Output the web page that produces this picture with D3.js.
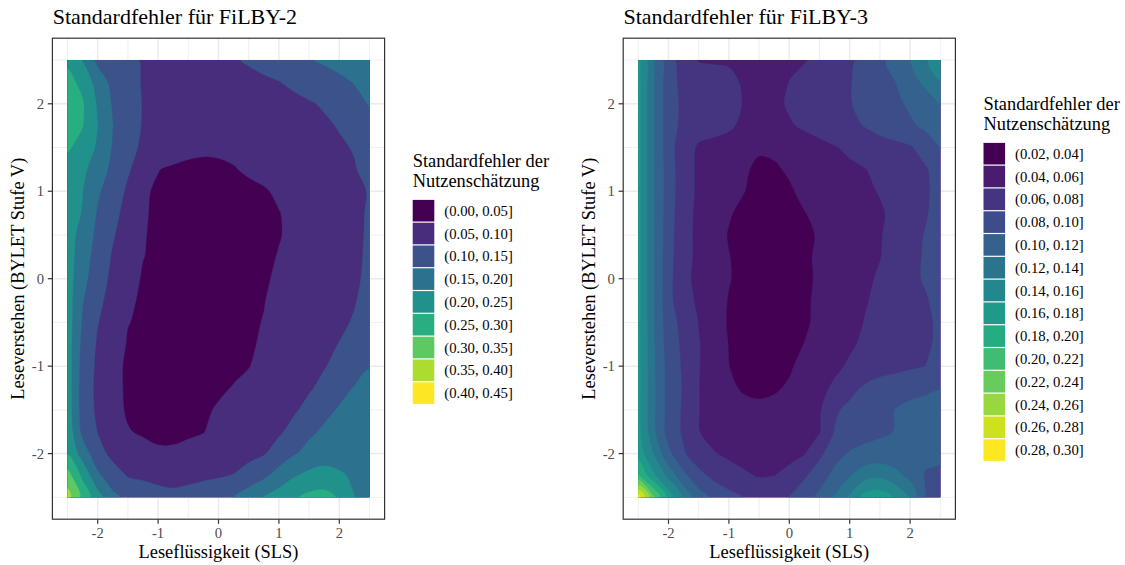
<!DOCTYPE html>
<html>
<head>
<meta charset="utf-8">
<script src="https://cdn.jsdelivr.net/npm/d3@7"></script>
<style>
  body { margin: 0; background: #ffffff; }
  svg { display: block; }
  text { font-family: "Liberation Serif", "Times New Roman", serif; }
</style>
</head>
<body>
<svg id="chart" width="1125" height="565"></svg>
<script>
// Evaluation grid (SLS on x, BYLET on y); rows of the value grids run from y = 2.5 down to y = -2.5
const gridX = [-2.5, -2.25, -2.0, -1.75, -1.5, -1.25, -1.0, -0.75, -0.5, -0.25, 0, 0.25, 0.5, 0.75, 1.0, 1.25, 1.5, 1.75, 2.0, 2.25, 2.5];
const gridY = [2.5, 2.25, 2.0, 1.75, 1.5, 1.25, 1.0, 0.75, 0.5, 0.25, 0, -0.25, -0.5, -0.75, -1.0, -1.25, -1.5, -1.75, -2.0, -2.25, -2.5];

const majorBreaks = [-2, -1, 0, 1, 2];
const majorLabels = ["-2", "-1", "0", "1", "2"];
const minorBreaks = [-2.5, -1.5, -0.5, 0.5, 1.5, 2.5];

const breaksFilby2 = [0.00, 0.05, 0.10, 0.15, 0.20, 0.25, 0.30, 0.35, 0.40, 0.45];
const labelsFilby2 = ["(0.00, 0.05]", "(0.05, 0.10]", "(0.10, 0.15]", "(0.15, 0.20]", "(0.20, 0.25]",
                      "(0.25, 0.30]", "(0.30, 0.35]", "(0.35, 0.40]", "(0.40, 0.45]"];

const breaksFilby3 = [0.02, 0.04, 0.06, 0.08, 0.10, 0.12, 0.14, 0.16, 0.18, 0.20, 0.22, 0.24, 0.26, 0.28, 0.30];
const labelsFilby3 = ["(0.02, 0.04]", "(0.04, 0.06]", "(0.06, 0.08]", "(0.08, 0.10]", "(0.10, 0.12]",
                      "(0.12, 0.14]", "(0.14, 0.16]", "(0.16, 0.18]", "(0.18, 0.20]", "(0.20, 0.22]",
                      "(0.22, 0.24]", "(0.24, 0.26]", "(0.26, 0.28]", "(0.28, 0.30]"];

// Standard error of the utility estimate, FiLBY-2
const seFilby2 = [
  [0.240, 0.198, 0.137, 0.126, 0.109, 0.097, 0.090, 0.086, 0.084, 0.085, 0.088, 0.095, 0.106, 0.116, 0.126, 0.137, 0.147, 0.156, 0.164, 0.172, 0.180],
  [0.265, 0.2375, 0.178, 0.136, 0.115, 0.097, 0.088, 0.082, 0.079, 0.077, 0.078, 0.080, 0.085, 0.092, 0.099, 0.109, 0.120, 0.131, 0.1415, 0.152, 0.165],
  [0.275, 0.255, 0.194, 0.145, 0.121, 0.098, 0.087, 0.080, 0.075, 0.072, 0.071, 0.071, 0.073, 0.077, 0.083, 0.089, 0.096, 0.105, 0.121, 0.138, 0.152],
  [0.270, 0.252, 0.201, 0.151, 0.121, 0.097, 0.085, 0.077, 0.071, 0.067, 0.065, 0.065, 0.066, 0.069, 0.073, 0.078, 0.085, 0.093, 0.103, 0.118, 0.140],
  [0.256, 0.234, 0.192, 0.146, 0.115, 0.092, 0.079, 0.068, 0.060, 0.056, 0.056, 0.058, 0.060, 0.063, 0.067, 0.072, 0.078, 0.085, 0.094, 0.103, 0.130],
  [0.230, 0.210, 0.177, 0.137, 0.105, 0.079, 0.051, 0.045, 0.042, 0.042, 0.044, 0.048, 0.055, 0.060, 0.065, 0.071, 0.077, 0.083, 0.090, 0.097, 0.115],
  [0.225, 0.201, 0.157, 0.124, 0.093, 0.054, 0.046, 0.040, 0.037, 0.036, 0.037, 0.039, 0.042, 0.047, 0.055, 0.062, 0.070, 0.077, 0.085, 0.093, 0.102],
  [0.225, 0.197, 0.145, 0.113, 0.085, 0.053, 0.045, 0.039, 0.036, 0.034, 0.034, 0.035, 0.038, 0.042, 0.049, 0.058, 0.066, 0.074, 0.083, 0.092, 0.104],
  [0.222, 0.182, 0.138, 0.104, 0.079, 0.052, 0.044, 0.038, 0.035, 0.033, 0.032, 0.033, 0.035, 0.040, 0.048, 0.058, 0.066, 0.074, 0.083, 0.092, 0.105],
  [0.222, 0.174, 0.129, 0.0955, 0.073, 0.051, 0.042, 0.037, 0.034, 0.032, 0.032, 0.033, 0.036, 0.042, 0.052, 0.060, 0.068, 0.076, 0.084, 0.093, 0.106],
  [0.223, 0.165, 0.121, 0.0898, 0.067, 0.046, 0.041, 0.036, 0.034, 0.033, 0.034, 0.036, 0.040, 0.046, 0.055, 0.063, 0.070, 0.078, 0.086, 0.095, 0.107],
  [0.224, 0.1525, 0.111, 0.0833, 0.057, 0.044, 0.040, 0.036, 0.034, 0.034, 0.036, 0.039, 0.043, 0.049, 0.058, 0.066, 0.074, 0.082, 0.090, 0.098, 0.112],
  [0.225, 0.1448, 0.102, 0.0765, 0.051, 0.045, 0.040, 0.037, 0.036, 0.037, 0.039, 0.042, 0.046, 0.051, 0.061, 0.070, 0.078, 0.086, 0.094, 0.103, 0.125],
  [0.226, 0.136, 0.0949, 0.070, 0.047, 0.044, 0.041, 0.039, 0.039, 0.040, 0.042, 0.045, 0.048, 0.052, 0.066, 0.076, 0.085, 0.093, 0.101, 0.113, 0.130],
  [0.226, 0.1315, 0.0913, 0.060, 0.045, 0.043, 0.041, 0.040, 0.040, 0.041, 0.043, 0.046, 0.049, 0.059, 0.068, 0.078, 0.088, 0.098, 0.111, 0.128, 0.148],
  [0.226, 0.127, 0.0894, 0.060, 0.045, 0.043, 0.041, 0.041, 0.042, 0.044, 0.047, 0.051, 0.058, 0.068, 0.078, 0.087, 0.096, 0.110, 0.133, 0.153, 0.165],
  [0.228, 0.128, 0.0915, 0.062, 0.046, 0.043, 0.042, 0.042, 0.044, 0.047, 0.052, 0.062, 0.071, 0.079, 0.087, 0.095, 0.112, 0.137, 0.155, 0.163, 0.170],
  [0.235, 0.136, 0.099, 0.075, 0.052, 0.046, 0.044, 0.044, 0.046, 0.049, 0.060, 0.069, 0.077, 0.085, 0.094, 0.1146, 0.141, 0.158, 0.166, 0.171, 0.175],
  [0.248, 0.178, 0.117, 0.088, 0.070, 0.062, 0.054, 0.054, 0.058, 0.063, 0.070, 0.078, 0.087, 0.097, 0.120, 0.146, 0.165, 0.175, 0.178, 0.179, 0.180],
  [0.320, 0.239, 0.160, 0.121, 0.097, 0.094, 0.092, 0.092, 0.094, 0.095, 0.096, 0.102, 0.119, 0.140, 0.170, 0.196, 0.212, 0.220, 0.207, 0.192, 0.185],
  [0.370, 0.287, 0.220, 0.163, 0.135, 0.120, 0.110, 0.106, 0.108, 0.115, 0.130, 0.149, 0.177, 0.203, 0.222, 0.243, 0.262, 0.266, 0.245, 0.201, 0.180]
];

// Standard error of the utility estimate, FiLBY-3
const seFilby3 = [
  [0.166, 0.122, 0.088, 0.070, 0.059, 0.058, 0.058, 0.057, 0.056, 0.056, 0.057, 0.059, 0.0635, 0.070, 0.077, 0.0857, 0.096, 0.1075, 0.119, 0.137, 0.155],
  [0.166, 0.122, 0.088, 0.074, 0.070, 0.068, 0.064, 0.058, 0.052, 0.054, 0.0603, 0.065, 0.070, 0.0745, 0.079, 0.0856, 0.093, 0.0997, 0.1133, 0.124, 0.139],
  [0.166, 0.122, 0.088, 0.076, 0.072, 0.070, 0.066, 0.059, 0.050, 0.055, 0.0625, 0.067, 0.071, 0.074, 0.079, 0.085, 0.090, 0.096, 0.103, 0.111, 0.121],
  [0.166, 0.122, 0.088, 0.075, 0.067, 0.066, 0.063, 0.056, 0.048, 0.050, 0.058, 0.063, 0.067, 0.070, 0.075, 0.081, 0.088, 0.092, 0.097, 0.104, 0.112],
  [0.166, 0.122, 0.088, 0.068, 0.058, 0.055, 0.052, 0.047, 0.042, 0.043, 0.047, 0.051, 0.055, 0.059, 0.063, 0.067, 0.0705, 0.0743, 0.078, 0.088, 0.101],
  [0.166, 0.122, 0.090, 0.068, 0.057, 0.052, 0.047, 0.042, 0.037, 0.038, 0.042, 0.046, 0.050, 0.054, 0.057, 0.0595, 0.064, 0.069, 0.073, 0.078, 0.088],
  [0.166, 0.122, 0.090, 0.068, 0.057, 0.052, 0.046, 0.0405, 0.035, 0.034, 0.038, 0.044, 0.048, 0.051, 0.054, 0.057, 0.061, 0.066, 0.071, 0.077, 0.087],
  [0.166, 0.122, 0.089, 0.067, 0.056, 0.050, 0.0415, 0.036, 0.033, 0.032, 0.034, 0.0395, 0.044, 0.048, 0.051, 0.054, 0.058, 0.064, 0.071, 0.078, 0.088],
  [0.166, 0.122, 0.088, 0.066, 0.056, 0.047, 0.039, 0.034, 0.031, 0.030, 0.031, 0.036, 0.042, 0.047, 0.051, 0.055, 0.059, 0.065, 0.073, 0.081, 0.090],
  [0.166, 0.122, 0.087, 0.066, 0.056, 0.048, 0.0405, 0.035, 0.031, 0.030, 0.031, 0.037, 0.043, 0.048, 0.052, 0.056, 0.0595, 0.066, 0.074, 0.082, 0.090],
  [0.166, 0.122, 0.086, 0.065, 0.055, 0.048, 0.041, 0.035, 0.031, 0.030, 0.031, 0.036, 0.043, 0.048, 0.053, 0.057, 0.062, 0.068, 0.075, 0.082, 0.090],
  [0.166, 0.122, 0.086, 0.066, 0.0575, 0.049, 0.039, 0.034, 0.031, 0.030, 0.031, 0.037, 0.044, 0.050, 0.055, 0.059, 0.063, 0.067, 0.072, 0.078, 0.087],
  [0.166, 0.122, 0.088, 0.074, 0.0595, 0.050, 0.038, 0.033, 0.031, 0.031, 0.032, 0.037, 0.045, 0.051, 0.056, 0.0605, 0.065, 0.069, 0.073, 0.077, 0.083],
  [0.166, 0.123, 0.090, 0.076, 0.061, 0.051, 0.0395, 0.034, 0.032, 0.032, 0.034, 0.0405, 0.048, 0.054, 0.058, 0.0625, 0.066, 0.070, 0.074, 0.0775, 0.083],
  [0.166, 0.124, 0.092, 0.077, 0.061, 0.050, 0.0402, 0.036, 0.034, 0.035, 0.038, 0.045, 0.051, 0.057, 0.062, 0.066, 0.070, 0.073, 0.077, 0.080, 0.087],
  [0.166, 0.124, 0.093, 0.078, 0.0605, 0.050, 0.043, 0.038, 0.036, 0.038, 0.042, 0.049, 0.056, 0.0625, 0.074, 0.083, 0.090, 0.093, 0.095, 0.097, 0.099],
  [0.166, 0.124, 0.093, 0.077, 0.0605, 0.053, 0.048, 0.045, 0.044, 0.045, 0.048, 0.053, 0.058, 0.077, 0.085, 0.090, 0.094, 0.1005, 0.104, 0.106, 0.108],
  [0.167, 0.125, 0.092, 0.077, 0.0605, 0.055, 0.052, 0.050, 0.049, 0.050, 0.052, 0.055, 0.059, 0.081, 0.088, 0.093, 0.097, 0.1005, 0.104, 0.107, 0.110],
  [0.172, 0.140, 0.105, 0.082, 0.068, 0.061, 0.057, 0.055, 0.054, 0.054, 0.056, 0.059, 0.075, 0.093, 0.102, 0.106, 0.107, 0.107, 0.106, 0.103, 0.102],
  [0.202, 0.165, 0.134, 0.105, 0.086, 0.075, 0.067, 0.062, 0.059, 0.0598, 0.064, 0.077, 0.092, 0.105, 0.119, 0.132, 0.136, 0.127, 0.114, 0.099, 0.098],
  [0.290, 0.225, 0.1733, 0.1363, 0.109, 0.095, 0.087, 0.079, 0.071, 0.074, 0.081, 0.093, 0.104, 0.122, 0.143, 0.168, 0.172, 0.158, 0.140, 0.098, 0.093]
];

const panels = [
  { title: "Standardfehler für FiLBY-2", grid: seFilby2, breaks: breaksFilby2, labels: labelsFilby2, left: 52.4, right: 384.6, legendX: 412.7 },
  { title: "Standardfehler für FiLBY-3", grid: seFilby3, breaks: breaksFilby3, labels: labelsFilby3, left: 623.2, right: 955.4, legendX: 983.5 }
];

const svg = d3.select("#chart");
svg.append("rect").attr("width", 1125).attr("height", 565).attr("fill", "#ffffff");

const panelTop = 38.2, panelBottom = 519.2;
const domain = [-2.75, 2.75];
const nx = gridX.length, ny = gridY.length;
const keyStep = 22.8, keySize = 21.6;
const ringLine = d3.line().curve(d3.curveCatmullRomClosed.alpha(0.5));

panels.forEach((p, pi) => {
  const g = svg.append("g");
  const x = d3.scaleLinear().domain(domain).range([p.left, p.right]);
  const y = d3.scaleLinear().domain(domain).range([panelBottom, panelTop]);

  // grid lines
  const gridG = g.append("g");
  minorBreaks.forEach(v => {
    gridG.append("line").attr("x1", x(v)).attr("x2", x(v)).attr("y1", panelTop).attr("y2", panelBottom)
      .attr("stroke", "#EBEBEB").attr("stroke-width", 0.8);
    gridG.append("line").attr("y1", y(v)).attr("y2", y(v)).attr("x1", p.left).attr("x2", p.right)
      .attr("stroke", "#EBEBEB").attr("stroke-width", 0.8);
  });
  majorBreaks.forEach(v => {
    gridG.append("line").attr("x1", x(v)).attr("x2", x(v)).attr("y1", panelTop).attr("y2", panelBottom)
      .attr("stroke", "#EBEBEB").attr("stroke-width", 1.5);
    gridG.append("line").attr("y1", y(v)).attr("y2", y(v)).attr("x1", p.left).attr("x2", p.right)
      .attr("stroke", "#EBEBEB").attr("stroke-width", 1.5);
  });

  // filled contour bands: each region value > break is painted over the previous one
  const values = p.grid.flat();
  const colX = d3.scaleLinear().domain([0, nx - 1]).range([gridX[0], gridX[nx - 1]]);
  const rowY = d3.scaleLinear().domain([0, ny - 1]).range([gridY[0], gridY[ny - 1]]);
  const toScreen = ([gx, gy]) => [x(colX(gx - 0.5)), y(rowY(gy - 0.5))];
  const contourPath = c => c.coordinates
    .map(poly => poly.map(ring => ringLine(ring.slice(0, -1).map(toScreen))).join(""))
    .join("");

  const nBands = p.labels.length;
  const color = k => d3.interpolateViridis(k / (nBands - 1));
  const contours = d3.contours().size([nx, ny]).thresholds(p.breaks.slice(0, nBands))(values);

  const clipId = "clip" + pi;
  g.append("clipPath").attr("id", clipId).append("rect")
    .attr("x", x(gridX[0])).attr("y", y(gridY[0]))
    .attr("width", x(gridX[nx - 1]) - x(gridX[0])).attr("height", y(gridY[ny - 1]) - y(gridY[0]));

  g.append("g").attr("clip-path", `url(#${clipId})`)
    .selectAll("path").data(contours).join("path")
    .attr("d", contourPath)
    .attr("fill", (d, i) => color(i))
    .attr("stroke", (d, i) => color(i))
    .attr("stroke-width", 0.3);

  // panel border
  g.append("rect").attr("x", p.left).attr("y", panelTop).attr("width", p.right - p.left).attr("height", panelBottom - panelTop)
    .attr("fill", "none").attr("stroke", "#333333").attr("stroke-width", 1.2);

  // x axis
  majorBreaks.forEach((v, i) => {
    g.append("line").attr("x1", x(v)).attr("x2", x(v)).attr("y1", panelBottom).attr("y2", panelBottom + 4.6)
      .attr("stroke", "#333333").attr("stroke-width", 1.2);
    g.append("text").attr("x", x(v)).attr("y", 538.3).attr("text-anchor", "middle")
      .attr("font-size", 14.7).attr("fill", "#4D4D4D").text(majorLabels[i]);
  });
  // y axis
  majorBreaks.forEach((v, i) => {
    g.append("line").attr("x1", p.left - 4.6).attr("x2", p.left).attr("y1", y(v)).attr("y2", y(v))
      .attr("stroke", "#333333").attr("stroke-width", 1.2);
    g.append("text").attr("x", p.left - 8.3).attr("y", y(v) + 5).attr("text-anchor", "end")
      .attr("font-size", 14.7).attr("fill", "#4D4D4D").text(majorLabels[i]);
  });

  // titles
  g.append("text").attr("x", p.left + 0.3).attr("y", 23.5).attr("font-size", 22).attr("fill", "#000").text(p.title);
  g.append("text").attr("x", (p.left + p.right) / 2).attr("y", 558.3).attr("text-anchor", "middle")
    .attr("font-size", 18.4).attr("fill", "#000").text("Leseflüssigkeit (SLS)");
  g.append("text").attr("transform", `translate(${p.left - 28},${(panelTop + panelBottom) / 2}) rotate(-90)`)
    .attr("text-anchor", "middle").attr("font-size", 18.4).attr("fill", "#000")
    .text("Leseverstehen (BYLET Stufe V)");

  // legend
  const keysTop = (panelTop + panelBottom) / 2 - (46.4 + nBands * keyStep) / 2 + 46.4;
  const lg = g.append("g");
  const lt = lg.append("text").attr("font-size", 18.4).attr("fill", "#000");
  lt.append("tspan").attr("x", p.legendX).attr("y", keysTop - 32.6).text("Standardfehler der");
  lt.append("tspan").attr("x", p.legendX).attr("y", keysTop - 12.0).text("Nutzenschätzung");
  p.labels.forEach((lab, k) => {
    const ky = keysTop + k * keyStep;
    lg.append("rect").attr("x", p.legendX).attr("y", ky + (keyStep - keySize) / 2)
      .attr("width", keySize).attr("height", keySize).attr("fill", color(k));
    lg.append("text").attr("x", p.legendX + 31.6).attr("y", ky + keyStep / 2 + 5)
      .attr("font-size", 14.7).attr("fill", "#000").text(lab);
  });
});
</script>
</body>
</html>
